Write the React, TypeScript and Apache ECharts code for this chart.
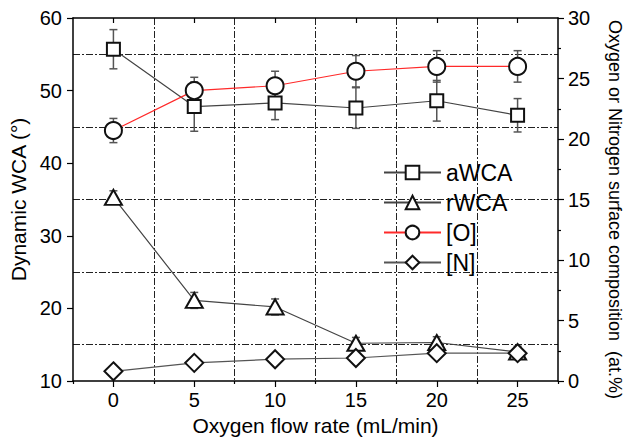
import { useEffect, useRef } from 'react';
import * as echarts from 'echarts';

// Oxygen flow rate (mL/min)
const flowRates = [0, 5, 10, 15, 20, 25];
const xTickValues = [0, 5, 10, 15, 20, 25];

// Dynamic water contact angles (degrees, left axis)
const aWCA = [55.7, 47.8, 48.3, 47.6, 48.6, 46.6];
const aWCAErr = [2.7, 3.4, 2.3, 2.8, 2.8, 2.3];
const rWCA = [35.3, 21.1, 20.2, 15.2, 15.3, 14.0];
const rWCAErr = [0.9, 1.1, 1.1, 0.8, 0.8, 0.8];

// Surface composition (at.%, right axis)
const oxygen = [20.7, 24.0, 24.4, 25.6, 26.0, 26.0];
const oxygenErr = [1.0, 1.1, 1.2, 1.3, 1.3, 1.3];
const nitrogen = [0.8, 1.5, 1.8, 1.9, 2.3, 2.3];
const nitrogenErr = [0.3, 0.3, 0.3, 0.3, 0.3, 0.4];

const FONT = 'Liberation Sans, Arial, Helvetica, sans-serif';
const GRID_DASH = [7, 2, 2, 2];

const pairs = (ys: number[]) => flowRates.map((x, i) => [x, ys[i]]);
const triples = (ys: number[], es: number[]) => flowRates.map((x, i) => [x, ys[i], es[i]]);

const errorBars = (name: string, ys: number[], es: number[], yAxisIndex: number) => ({
  type: 'custom',
  name,
  xAxisIndex: 0,
  yAxisIndex,
  z: 2,
  silent: true,
  encode: { x: 0, y: 1 },
  data: triples(ys, es),
  renderItem: (_params: any, api: any) => {
    const x = api.value(0);
    const y = api.value(1);
    const e = api.value(2);
    const top = api.coord([x, y + e]);
    const bot = api.coord([x, y - e]);
    const cap = 4;
    const style = { stroke: '#555', lineWidth: 1.5 };
    return {
      type: 'group',
      children: [
        { type: 'line', shape: { x1: top[0], y1: top[1], x2: bot[0], y2: bot[1] }, style },
        { type: 'line', shape: { x1: top[0] - cap, y1: top[1], x2: top[0] + cap, y2: top[1] }, style },
        { type: 'line', shape: { x1: bot[0] - cap, y1: bot[1], x2: bot[0] + cap, y2: bot[1] }, style },
      ],
    };
  },
});

const markerStyle = { color: '#fff', borderColor: '#111', borderWidth: 2 };

const lineSeries = (
  name: string,
  ys: number[],
  yAxisIndex: number,
  symbol: string,
  symbolSize: number | number[],
  lineColor: string
) => ({
  type: 'line',
  name,
  xAxisIndex: 0,
  yAxisIndex,
  z: 3,
  data: pairs(ys),
  symbol,
  symbolSize,
  showAllSymbol: true,
  itemStyle: markerStyle,
  lineStyle: { color: lineColor, width: 1.2 },
  emphasis: { disabled: true },
});

const axisLineStyle = { show: true, onZero: false, lineStyle: { color: '#000', width: 1.5 } };
const labelStyle = { color: '#000', fontSize: 20, fontFamily: FONT };
const nameStyle = { color: '#000', fontSize: 21, fontFamily: FONT };

export default function App() {
  const ref = useRef<HTMLDivElement>(null);

  useEffect(() => {
    const chart = echarts.init(ref.current!, null, { renderer: 'svg' });
    chart.setOption({
      animation: false,
      backgroundColor: '#fff',
      grid: { left: 73, right: 67, top: 18, bottom: 59, containLabel: false, outerBoundsMode: 'none' },
      legend: {
        orient: 'vertical',
        left: 378,
        top: 156,
        itemWidth: 57,
        itemHeight: 17,
        itemGap: 7,
        selectedMode: false,
        data: ['aWCA', 'rWCA', '[O]', '[N]'],
        textStyle: { color: '#000', fontSize: 23, fontFamily: FONT, lineHeight: 22 },
      },
      xAxis: [
        {
          // main bottom axis with labels
          type: 'value',
          position: 'bottom',
          min: -2.5,
          max: 27.5,
          name: 'Oxygen flow rate (mL/min)',
          nameLocation: 'middle',
          nameGap: 30,
          nameTextStyle: nameStyle,
          axisLine: axisLineStyle,
          axisTick: { show: true, length: 6, customValues: xTickValues, lineStyle: { color: '#000', width: 1.2 } },
          axisLabel: { ...labelStyle, margin: 9, customValues: xTickValues },
          splitLine: { show: false },
        },
        {
          // vertical grid lines and minor ticks at the half steps
          type: 'value',
          position: 'bottom',
          min: -2.5,
          max: 27.5,
          interval: 5,
          axisLine: { show: false, onZero: false },
          axisTick: { show: true, length: 3, lineStyle: { color: '#000', width: 1.2 } },
          axisLabel: { show: false },
          splitLine: {
            show: true,
            showMinLine: false,
            showMaxLine: false,
            lineStyle: { color: '#222', width: 1, type: GRID_DASH },
          },
        },
        {
          // top frame with inward ticks
          type: 'value',
          position: 'top',
          min: -2.5,
          max: 27.5,
          axisLine: axisLineStyle,
          axisTick: { show: true, inside: true, length: 5, customValues: xTickValues, lineStyle: { color: '#000', width: 1.2 } },
          axisLabel: { show: false },
          splitLine: { show: false },
        },
      ],
      yAxis: [
        {
          type: 'value',
          position: 'left',
          min: 10,
          max: 60,
          interval: 10,
          name: 'Dynamic WCA (°)',
          nameLocation: 'middle',
          nameRotate: 90,
          nameGap: 40,
          nameTextStyle: nameStyle,
          axisLine: axisLineStyle,
          axisTick: { show: true, length: 6, lineStyle: { color: '#000', width: 1.2 } },
          axisLabel: { ...labelStyle, margin: 11 },
          splitLine: { show: false },
          minorTick: { show: false, splitNumber: 2 },
          minorSplitLine: { show: true, lineStyle: { color: '#222', width: 1, type: GRID_DASH } },
        },
        {
          type: 'value',
          position: 'right',
          min: 0,
          max: 30,
          interval: 5,
          name: 'Oxygen or Nitrogen surface composition  (at.%)',
          nameLocation: 'middle',
          nameRotate: -90,
          nameGap: 48,
          nameTextStyle: { ...nameStyle, fontSize: 18, padding: [0, 0, 0, 20] },
          axisLine: axisLineStyle,
          axisTick: { show: true, length: 6, lineStyle: { color: '#000', width: 1.2 } },
          axisLabel: { ...labelStyle, margin: 10 },
          splitLine: { show: false },
          minorTick: { show: true, splitNumber: 2, length: 3, lineStyle: { color: '#000', width: 1.2 } },
          minorSplitLine: { show: false },
        },
      ],
      series: [
        errorBars('aWCA-err', aWCA, aWCAErr, 0),
        errorBars('rWCA-err', rWCA, rWCAErr, 0),
        errorBars('O-err', oxygen, oxygenErr, 1),
        errorBars('N-err', nitrogen, nitrogenErr, 1),
        lineSeries('aWCA', aWCA, 0, 'rect', 13, '#444'),
        lineSeries('rWCA', rWCA, 0, 'triangle', [17, 15], '#444'),
        lineSeries('[O]', oxygen, 1, 'circle', 17, '#ff2a2a'),
        lineSeries('[N]', nitrogen, 1, 'diamond', 18, '#555'),
      ],
    });
    return () => chart.dispose();
  }, []);

  return <div ref={ref} style={{ position: 'fixed', left: 0, top: 0, width: 625, height: 440 }} />;
}
